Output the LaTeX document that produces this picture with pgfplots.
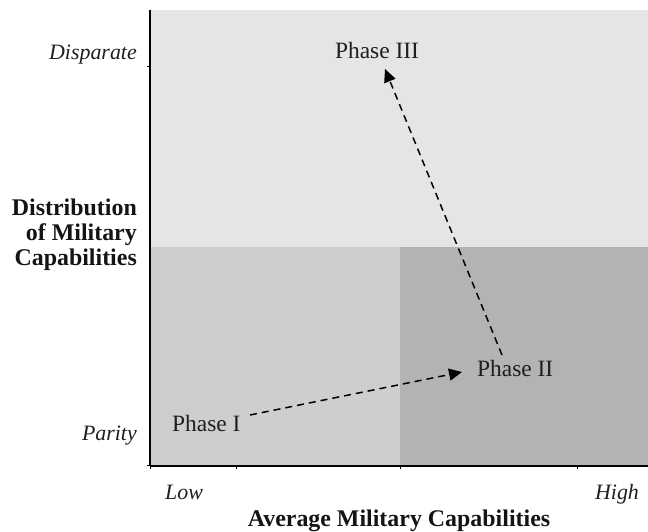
\documentclass[border=0pt]{standalone}
\usepackage{fontspec}
\setmainfont{Liberation Serif}
\usepackage{pgfplots}
\pgfplotsset{compat=1.18}
\usetikzlibrary{arrows.meta}
\definecolor{topgray}{RGB}{229,229,229}
\definecolor{blgray}{RGB}{206,206,206}
\definecolor{brgray}{RGB}{179,179,179}
\tikzset{
  ph/.style={font=\fontsize{23.5}{26}\selectfont, inner sep=0pt, text=black!88},
  it/.style={font=\fontsize{22}{26}\selectfont\itshape, inner sep=0pt, text=black!88},
  bf/.style={font=\fontsize{24}{26}\selectfont\bfseries, inner sep=0pt, text=black!92},
}
\begin{document}
\begin{tikzpicture}
\path[use as bounding box] (0,0) rectangle (648bp,532bp);
\begin{axis}[
  scale only axis,
  width=498bp, height=456bp,
  at={(150bp,66bp)}, anchor=south west,
  xmin=150, xmax=648, ymin=66, ymax=522,
  clip=false,
  axis lines=left,
  axis line style={-, line width=1.4bp, black},
  xtick={150,236,400,577}, ytick={66,465},
  xticklabels={}, yticklabels={},
  tick align=outside, major tick length=3bp,
  tick style={line width=1bp, black},
  axis on top,
]
\addplot[fill=topgray, draw=none] coordinates {(150,285) (648,285) (648,522) (150,522)} -- cycle;
\addplot[fill=blgray, draw=none] coordinates {(150,66) (400,66) (400,285) (150,285)} -- cycle;
\addplot[fill=brgray, draw=none] coordinates {(400,66) (648,66) (648,285) (400,285)} -- cycle;
\addplot[black, line width=1.5bp, dash pattern=on 7bp off 5bp, -{Triangle[length=13bp,width=12bp]}] coordinates {(250,117) (462,160)};
\addplot[black, line width=1.5bp, dash pattern=on 7bp off 5bp, -{Triangle[length=13bp,width=12bp]}] coordinates {(502,177) (385,463)};
\node[ph, anchor=base west] at (axis cs:172,100) {Phase I};
\node[ph, anchor=base west] at (axis cs:477,155) {Phase II};
\node[ph, anchor=base] at (axis cs:377,473) {Phase III};
\node[it, anchor=base east] at (axis cs:137,472) {Disparate};
\node[it, anchor=base east] at (axis cs:137,91) {Parity};
\node[it, anchor=base] at (axis cs:184,33) {Low};
\node[it, anchor=base] at (axis cs:617,33) {High};
\node[bf, anchor=base] at (axis cs:399,6) {Average Military Capabilities};
\node[bf, anchor=base east] at (axis cs:137,316) {Distribution};
\node[bf, anchor=base east] at (axis cs:137,291) {of Military};
\node[bf, anchor=base east] at (axis cs:137,266) {Capabilities};
\end{axis}
\end{tikzpicture}
\end{document}
